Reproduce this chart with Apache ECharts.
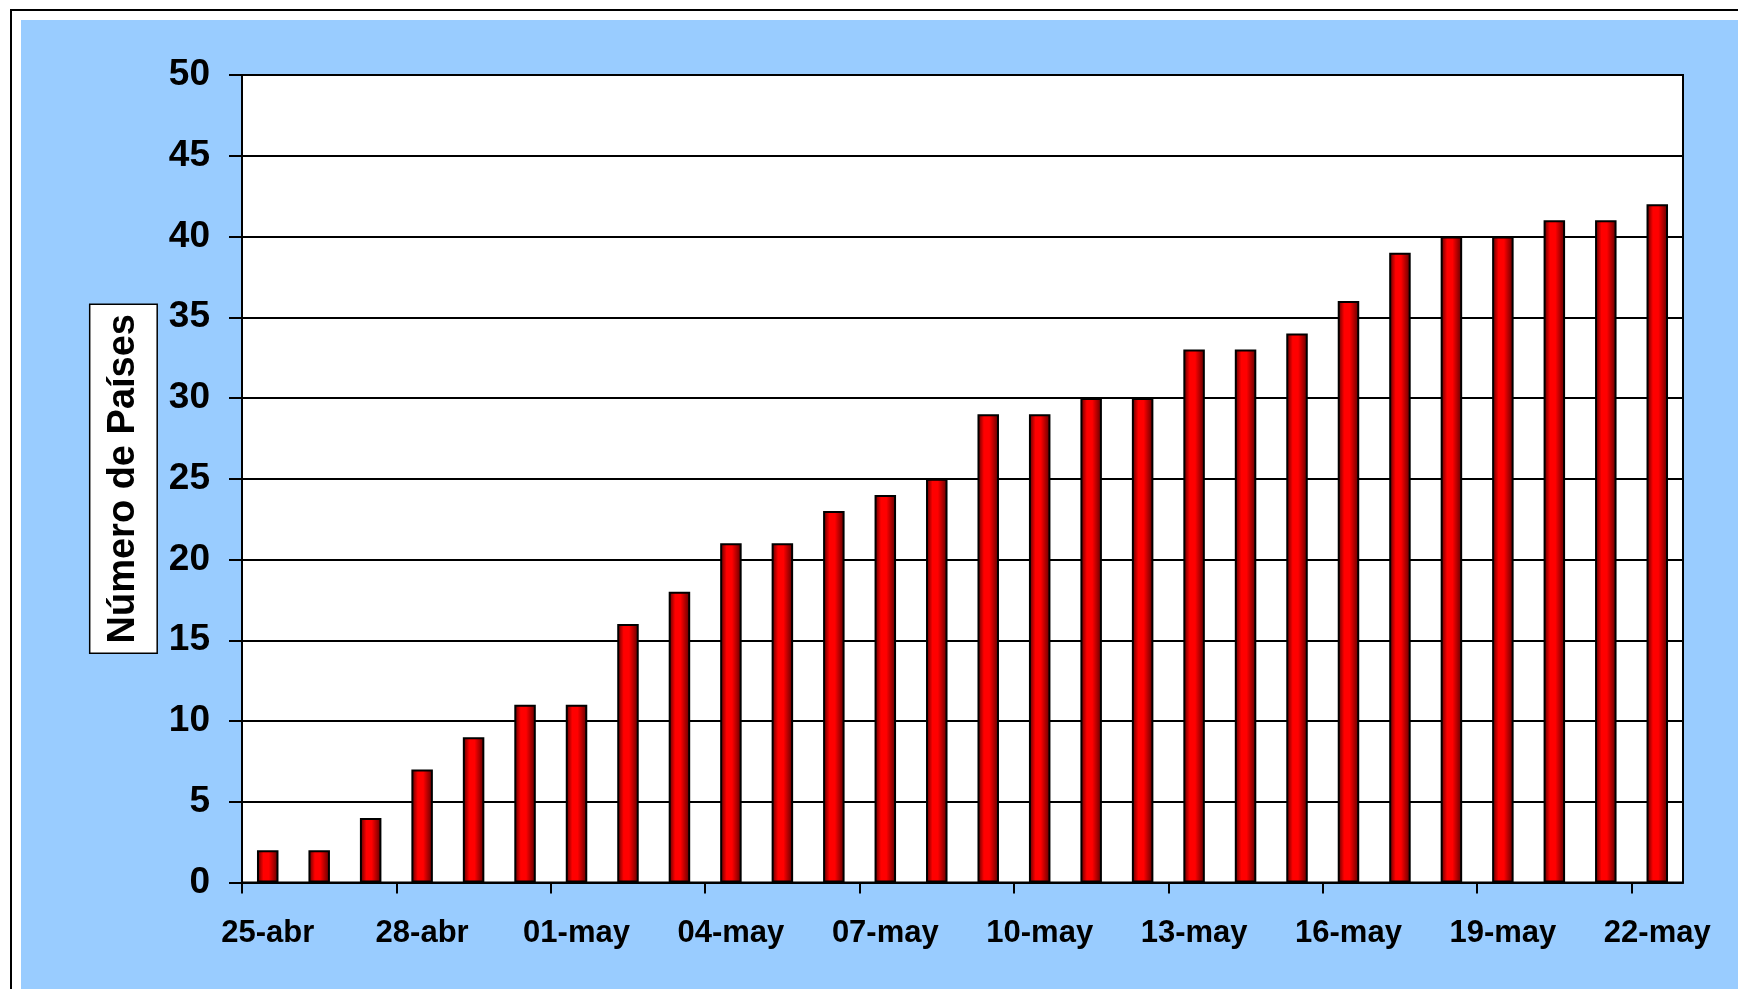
<!DOCTYPE html>
<html>
<head>
<meta charset="utf-8">
<script src="https://cdn.jsdelivr.net/npm/echarts@6/dist/echarts.min.js"></script>
<style>
html,body{margin:0;padding:0;background:#fff;}
#chart{width:1738px;height:989px;}
</style>
</head>
<body>
<div id="chart"></div>
<script>
const categories = ['25-abr','26-abr','27-abr','28-abr','29-abr','30-abr',
  '01-may','02-may','03-may','04-may','05-may','06-may','07-may','08-may',
  '09-may','10-may','11-may','12-may','13-may','14-may','15-may','16-may',
  '17-may','18-may','19-may','20-may','21-may','22-may'];
const paises = [2,2,4,7,9,11,11,16,18,21,21,23,24,25,29,29,30,30,33,33,34,36,39,40,40,41,41,42];
const yTitle = 'Número de Países';

const chart = echarts.init(document.getElementById('chart'), null, {renderer:'canvas'});
const FONT = '"Liberation Sans", Arial, sans-serif';
chart.setOption({
  animation: false,
  backgroundColor: '#fff',
  graphic: [
    {type:'rect', z:-10, shape:{x:11, y:10, width:1800, height:1100},
     style:{fill:'#fff', stroke:'#000', lineWidth:2}},
    {type:'rect', z:-9, shape:{x:21, y:20, width:1800, height:1100},
     style:{fill:'#99CCFF'}}
  ],
  grid: {left:242, top:75, right:55, bottom:106.5, show:true,
         backgroundColor:'#fff', borderColor:'#000', borderWidth:2, containLabel:false},
  xAxis: [{
    type:'category', data:categories,
    axisLine:{show:true, lineStyle:{color:'#000', width:2}},
    axisTick:{show:false},
    axisLabel:{interval:2, color:'#000', fontFamily:FONT, fontWeight:'bold', fontSize:31, margin:35},
    splitLine:{show:false}
  }, {
    type:'category', data:categories, inverse:true, position:'bottom',
    axisLine:{show:false},
    axisLabel:{show:false},
    axisTick:{show:true, interval:function(i){ return i % 3 === 1; }, length:11,
              lineStyle:{color:'#000', width:2}},
    splitLine:{show:false}
  }],
  yAxis: {
    type:'value', min:0, max:50, interval:5,
    name: yTitle, nameLocation:'middle', nameRotate:90, nameGap:81,
    nameTextStyle:{color:'#000', fontFamily:FONT, fontWeight:'bold', fontSize:38,
      backgroundColor:'#fff', borderColor:'#000', borderWidth:1.5,
      lineHeight:46, padding:[10,9,10,9]},
    axisLine:{show:true, lineStyle:{color:'#000', width:2}},
    axisTick:{show:true, inside:false, length:13, lineStyle:{color:'#000', width:2}},
    axisLabel:{color:'#000', fontFamily:FONT, fontWeight:'bold', fontSize:37, margin:32,
               padding:[4,0,0,0]},
    splitLine:{show:true, lineStyle:{color:'#000', width:2}}
  },
  series: [{
    type:'bar', data:paises, barWidth:21.5, xAxisIndex:0,
    itemStyle:{
      borderColor:'#000', borderWidth:2,
      color: new echarts.graphic.LinearGradient(0,0,1,0,[
        {offset:0, color:'#500000'},
        {offset:0.3, color:'#ff0000'},
        {offset:0.55, color:'#ff0000'},
        {offset:1, color:'#580000'}
      ])
    }
  }]
});
</script>
</body>
</html>
